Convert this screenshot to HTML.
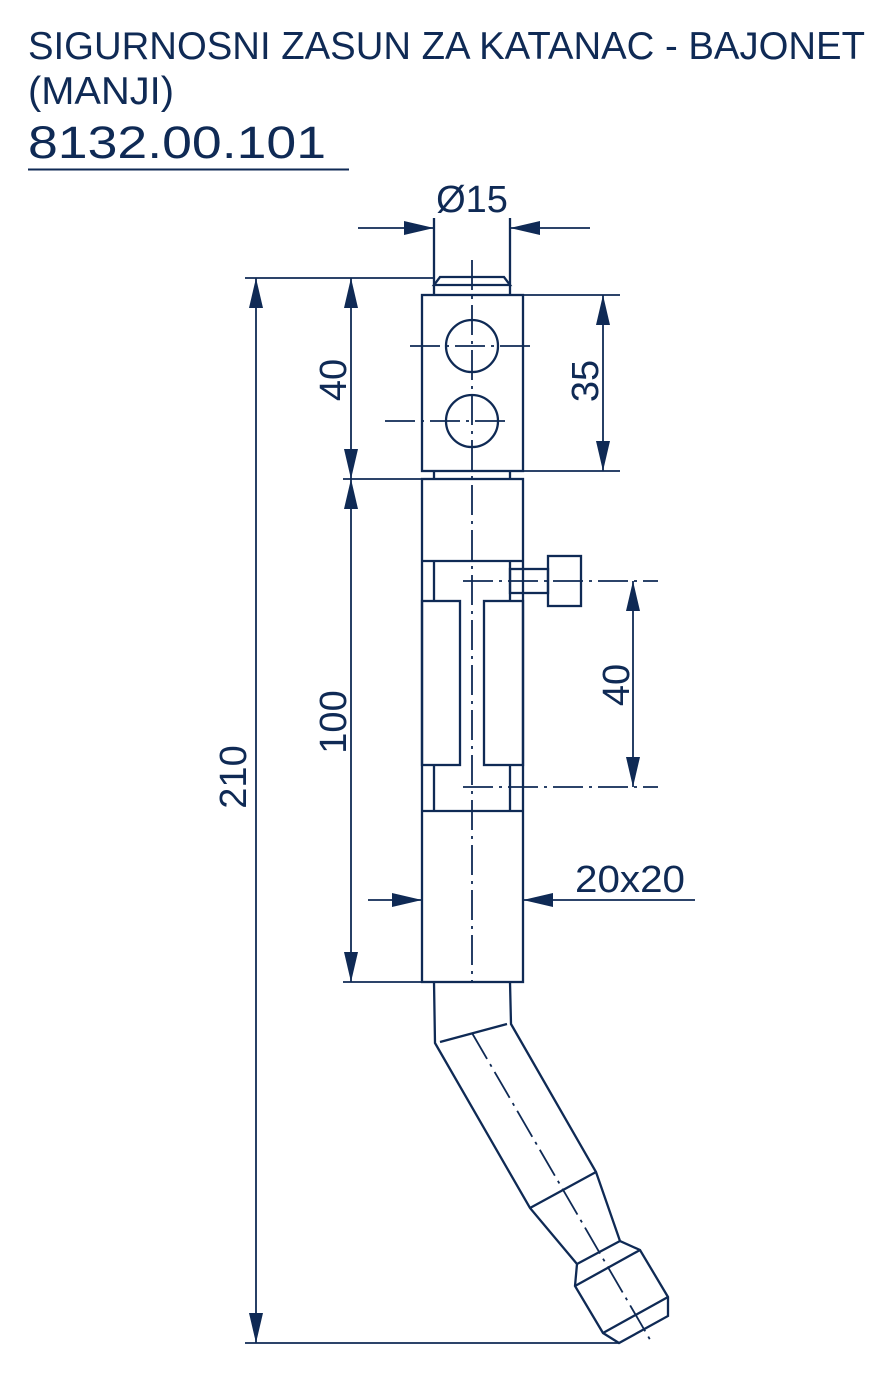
<!DOCTYPE html>
<html><head><meta charset="utf-8"><style>
html,body{margin:0;padding:0;background:#fff;}
svg{display:block}
text{font-family:"Liberation Sans",sans-serif;fill:#0f2a55}
</style></head><body>
<svg width="878" height="1374" viewBox="0 0 878 1374" xmlns="http://www.w3.org/2000/svg">
<defs>
<marker id="a" markerWidth="30" markerHeight="14" refX="30" refY="7" orient="auto-start-reverse" markerUnits="userSpaceOnUse">
<path d="M0,0 L30,7 L0,14 Z" fill="#0f2a55"/></marker>
</defs>
<text x="28" y="59" font-size="39" textLength="837" lengthAdjust="spacingAndGlyphs">SIGURNOSNI ZASUN ZA KATANAC - BAJONET</text>
<text x="28" y="104" font-size="39" textLength="146" lengthAdjust="spacingAndGlyphs">(MANJI)</text>
<text x="28" y="158" font-size="45" textLength="298" lengthAdjust="spacingAndGlyphs">8132.00.101</text>
<line x1="28" y1="169.5" x2="349" y2="169.5" stroke="#0f2a55" stroke-width="2"/>

<g stroke="#0f2a55" stroke-width="2.3" fill="none">
<line x1="434" y1="218" x2="434" y2="295"/><line x1="510" y1="218" x2="510" y2="295"/>
<path d="M434,285 L440,277 L504,277 L510,285 Z"/>
<rect x="422" y="295" width="101" height="176"/>
<line x1="434" y1="471" x2="434" y2="479"/><line x1="510" y1="471" x2="510" y2="479"/>
<rect x="422" y="479" width="101" height="503"/>
<circle cx="472" cy="346" r="26"/><circle cx="472" cy="421" r="26"/>
<line x1="422" y1="561" x2="523" y2="561"/>
<line x1="434" y1="561" x2="434" y2="601"/><line x1="510" y1="561" x2="510" y2="601"/>
<rect x="422" y="601" width="38" height="164"/>
<rect x="484" y="601" width="39" height="164"/>
<line x1="434" y1="765" x2="434" y2="811"/><line x1="510" y1="765" x2="510" y2="811"/>
<line x1="422" y1="811" x2="523" y2="811"/>
<rect x="510" y="569" width="38" height="24"/>
<rect x="548" y="556" width="33" height="50"/>
<path d="M434,982 L435,1043 L530,1208 L577,1264 L575,1286 L603,1333 L619,1343 L668,1316 L668,1297 L640,1250 L620,1241 L596,1172 L511,1024 L510,982"/>
<line x1="440" y1="1042" x2="507" y2="1024"/>
<line x1="530" y1="1208" x2="596" y2="1172"/>
<line x1="577" y1="1264" x2="620" y2="1241"/>
<line x1="575" y1="1286" x2="640" y2="1250"/>
<line x1="603" y1="1333" x2="668" y2="1297"/>
</g>
<g stroke="#0f2a55" stroke-width="1.8" fill="none" stroke-dasharray="30,6,3,6">
<line x1="472" y1="260" x2="472" y2="982"/>
<line x1="472" y1="1033" x2="652" y2="1343"/>
<line x1="410" y1="346" x2="535" y2="346"/>
<line x1="385" y1="421" x2="510" y2="421"/>
<line x1="463" y1="581" x2="658" y2="581"/>
<line x1="463" y1="787" x2="658" y2="787"/>
</g>
<g stroke="#0f2a55" stroke-width="1.8" fill="none">
<line x1="245" y1="278" x2="434" y2="278"/>
<line x1="245" y1="1343" x2="619" y2="1343"/>
<line x1="343" y1="479" x2="422" y2="479"/>
<line x1="343" y1="982" x2="422" y2="982"/>
<line x1="523" y1="295" x2="620" y2="295"/>
<line x1="523" y1="471" x2="620" y2="471"/>
<line x1="256" y1="278" x2="256" y2="1343" marker-start="url(#a)" marker-end="url(#a)"/>
<line x1="351" y1="278" x2="351" y2="479" marker-start="url(#a)" marker-end="url(#a)"/>
<line x1="351" y1="479" x2="351" y2="982" marker-start="url(#a)" marker-end="url(#a)"/>
<line x1="603" y1="295" x2="603" y2="471" marker-start="url(#a)" marker-end="url(#a)"/>
<line x1="633" y1="581" x2="633" y2="787" marker-start="url(#a)" marker-end="url(#a)"/>
<line x1="358" y1="228" x2="434" y2="228" marker-end="url(#a)"/>
<line x1="590" y1="228" x2="510" y2="228" marker-end="url(#a)"/>
<line x1="368" y1="900" x2="422" y2="900" marker-end="url(#a)"/>
<line x1="695" y1="900" x2="523" y2="900" marker-end="url(#a)"/>
</g>
<g font-size="38">
<text x="472" y="212" text-anchor="middle">Ø15</text>
<text x="630" y="892" text-anchor="middle" textLength="110" lengthAdjust="spacingAndGlyphs">20x20</text>
<text transform="translate(246,777) rotate(-90)" text-anchor="middle">210</text>
<text transform="translate(346,380) rotate(-90)" text-anchor="middle">40</text>
<text transform="translate(346,722) rotate(-90)" text-anchor="middle">100</text>
<text transform="translate(598,381) rotate(-90)" text-anchor="middle">35</text>
<text transform="translate(629,685) rotate(-90)" text-anchor="middle">40</text>
</g>
</svg>
</body></html>
